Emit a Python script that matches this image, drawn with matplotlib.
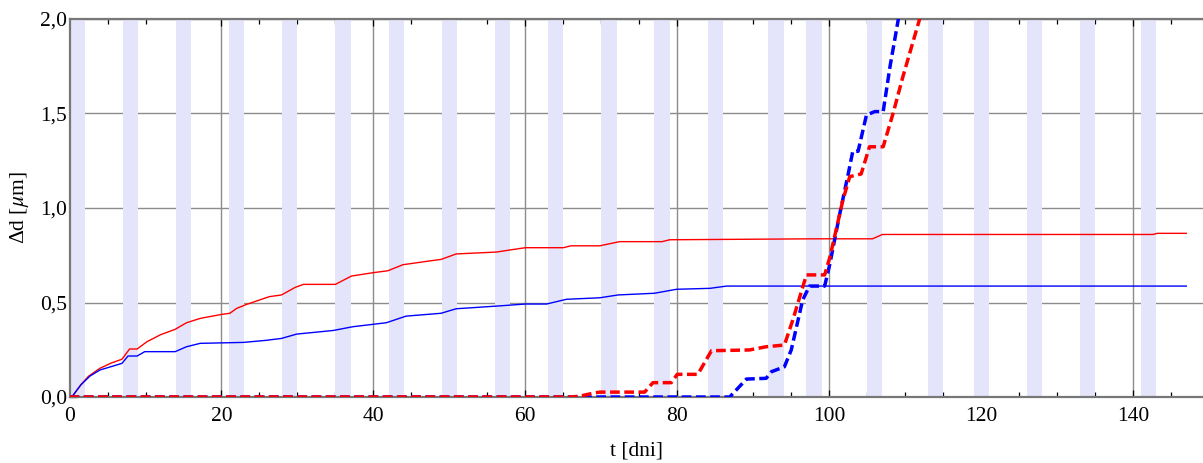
import matplotlib
matplotlib.use('Agg')
import matplotlib.pyplot as plt
from matplotlib.ticker import MultipleLocator, FuncFormatter

# --- data ---
red_t = [0, 0.3, 1.5, 2.5, 4, 5.5, 6.9, 7.9, 8.9, 10.2, 12, 13.9, 15.4, 17.2, 20, 21.1, 22,
         23.3, 26.3, 27.9, 29.7, 30.8, 35, 37.1, 40, 41.9, 43.9, 47.4, 48.9, 50.9, 56.2, 58,
         60, 65, 66, 69.8, 72.4, 78, 79, 98.2, 105.7, 107, 142.6, 143.2, 147]
red_v = [0, 0, 0.065, 0.11, 0.152, 0.18, 0.2, 0.254, 0.254, 0.293, 0.33, 0.358, 0.393, 0.416,
         0.437, 0.443, 0.469, 0.49, 0.531, 0.54, 0.58, 0.596, 0.596, 0.64, 0.658, 0.668,
         0.70, 0.72, 0.728, 0.757, 0.767, 0.778, 0.79, 0.79, 0.80, 0.80, 0.822, 0.822,
         0.832, 0.837, 0.837, 0.86, 0.86, 0.866, 0.866]

blue_t = [0, 0.3, 1.5, 2.7, 4, 6.9, 7.7, 8.9, 9.9, 13.9, 15.4, 17.2, 22.9, 25.9, 27.9, 29.9,
          34.7, 37.3, 41.7, 44.3, 48.9, 50.9, 56.2, 60, 62.8, 65.4, 69.8, 72.2, 77, 79.9,
          84.3, 86.5, 147]
blue_v = [0, 0, 0.065, 0.111, 0.143, 0.178, 0.217, 0.217, 0.24, 0.24, 0.266, 0.284, 0.289,
          0.30, 0.31, 0.333, 0.352, 0.372, 0.393, 0.428, 0.443, 0.467, 0.481, 0.492, 0.492,
          0.517, 0.525, 0.54, 0.549, 0.57, 0.575, 0.587, 0.587]

red_dash_t = [0, 66, 67.2, 68.9, 69.8, 75.7, 76.8, 79.2, 80, 82.7, 84.5, 89.5, 91.7, 94.1,
              95.2, 97, 99.4, 100.1, 101.8, 102.7, 104.2, 105.3, 107.1, 108.4, 109.7, 111.9,
              112.5]
red_dash_v = [0, 0, 0.005, 0.02, 0.026, 0.026, 0.076, 0.076, 0.12, 0.12, 0.245, 0.249, 0.266,
              0.275, 0.407, 0.646, 0.646, 0.742, 1.042, 1.166, 1.18, 1.324, 1.324, 1.5,
              1.695, 2.0, 2.08]

blue_dash_t = [0, 86.9, 89.1, 91.7, 92.4, 94.1, 95.0, 96.5, 97.4, 99.4, 100.1, 101.4, 102.5,
               103.1, 103.8, 104.9, 106, 107.1, 108, 109.1, 109.5]
blue_dash_v = [0, 0, 0.095, 0.099, 0.134, 0.16, 0.249, 0.513, 0.587, 0.587, 0.707, 0.972,
               1.18, 1.3, 1.3, 1.492, 1.51, 1.51, 1.748, 2.0, 2.08]

band_start = [0, 7, 14, 21, 28, 35, 42, 49, 56, 63, 70, 77, 84, 92, 97, 105, 113, 119, 126,
              133, 141]
band_end = [2, 9, 16, 23, 30, 37, 44, 51, 58, 65, 72, 79, 86, 94, 99, 107, 115, 121, 128,
            135, 143]

plt.rcParams['font.family'] = ['Liberation Serif', 'DejaVu Serif']
plt.rcParams['mathtext.fontset'] = 'stix'

fig = plt.figure(figsize=(12.03, 4.63), dpi=100)
ax = fig.add_axes([0.0578, 0.1425, 0.9422, 0.8165])

for a, b in zip(band_start, band_end):
    ax.axvspan(a, b, color='#e4e4fa', lw=0, zorder=1)

ax.plot(red_t, red_v, color='red', lw=1.0, zorder=3)
ax.plot(blue_t, blue_v, color='blue', lw=1.0, zorder=3)
ax.plot(blue_dash_t, blue_dash_v, color='blue', lw=2.5, ls=(0, (2.8, 1.3)),
        dash_capstyle='butt', zorder=4)
ax.plot(red_dash_t, red_dash_v, color='red', lw=2.5, ls=(0, (2.8, 1.3)),
        dash_capstyle='butt', zorder=5)

ax.set_xlim(0, 149.2)
ax.set_ylim(0, 2.0)
ax.set_axisbelow(True)

ax.xaxis.set_major_locator(MultipleLocator(20))
ax.xaxis.set_minor_locator(MultipleLocator(5))
ax.yaxis.set_major_locator(MultipleLocator(0.5))
ax.yaxis.set_minor_locator(MultipleLocator(0.1))
ax.yaxis.set_major_formatter(FuncFormatter(lambda v, p: f'{v:.1f}'.replace('.', ',')))

ax.grid(True, which='major', color='#8c8c8c', lw=1.0)
ax.tick_params(which='both', direction='in', top=True, right=False, labelsize=15.5,
               color='black', width=0.9)
ax.tick_params(which='major', length=5)
ax.tick_params(which='minor', length=3.5)
ax.tick_params(axis='x', which='major', pad=7)
ax.tick_params(axis='y', which='major', pad=2)

for s in ['top', 'bottom', 'left']:
    ax.spines[s].set_color('#777777')
    ax.spines[s].set_linewidth(1.6)
ax.spines['right'].set_visible(False)

ax.set_xlabel('t [dni]', fontsize=15.5, labelpad=11)
ax.set_ylabel('Δd [$\\mu$m]', fontsize=15.5, labelpad=6)

fig.savefig('out.png', dpi=100)
